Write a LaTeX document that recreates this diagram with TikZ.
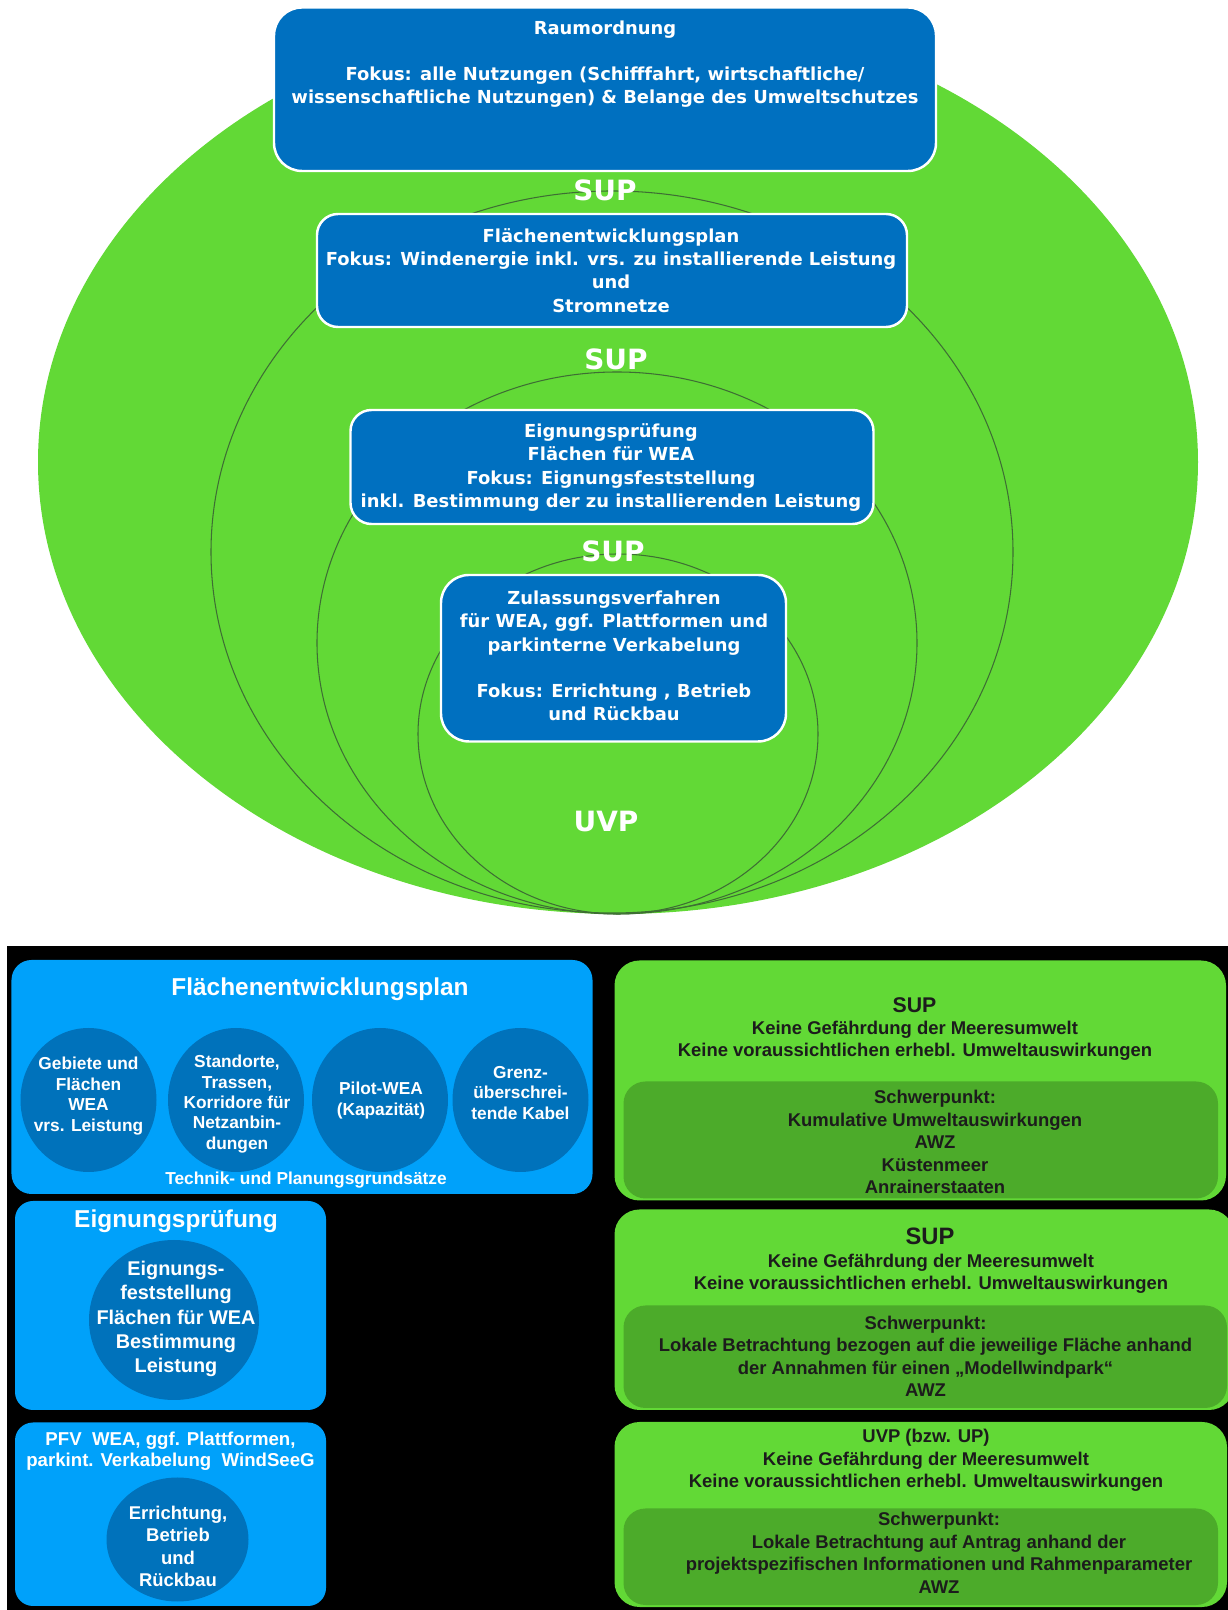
\documentclass[tikz,border=0pt]{standalone}
\usepackage{fontspec}
\setmainfont{Liberation Sans}
\newfontfamily\slidefont{DejaVu Sans}
\definecolor{boxblue}{HTML}{0070C0}
\definecolor{skyblue}{HTML}{00A1FA}
\definecolor{discblue}{HTML}{0072BB}
\definecolor{leaf}{HTML}{62D936}
\definecolor{darkleaf}{HTML}{4CAB2A}
\definecolor{ringline}{HTML}{3E6E34}
\definecolor{inktext}{HTML}{1C1C1C}
\newcommand\fsz[2]{\fontsize{#1}{#2}\selectfont}

\begin{document}
\begin{tikzpicture}[font=\bfseries,
  topbox/.style={draw=white,line width=1.4pt,fill=boxblue},
  ring/.style={draw=ringline,line width=.6pt},
  toptext/.style={text=white,align=center,font=\slidefont\bfseries\fsz{10.2pt}{13.2pt}},
  ringlabel/.style={text=white,font=\slidefont\bfseries\fsz{15.9pt}{18pt}},
  whitetext/.style={text=white,align=center},
  darktext/.style={text=inktext,align=center,font=\bfseries\fsz{10.5pt}{12.8pt}}]
\useasboundingbox (0,0) rectangle (24.56,32.2);
\fill[white] (0,0) rectangle (24.56,32.2);
% Nested assessment scopes: the outer ring is filled, the inner ones are only outlined.
\fill[leaf] (12.36,22.96) ellipse [x radius=11.6,y radius=9.04];
\foreach \cx/\cy/\rx/\ry in {12.24/21.16/8.02/7.22,12.34/19.34/6.0/5.42,12.36/17.52/4.0/3.6}{
  \draw[ring] (\cx,\cy) ellipse [x radius=\rx,y radius=\ry];
}
\draw[topbox,rounded corners=.56cm] (5.48,32.05) rectangle (18.72,28.78);
\draw[topbox,rounded corners=.42cm] (6.34,27.92) rectangle (18.14,25.66);
\draw[topbox,rounded corners=.42cm] (7.01,24.0) rectangle (17.47,21.72);
\draw[topbox,rounded corners=.56cm] (8.82,20.7) rectangle (15.72,17.37);
\node[toptext] (raum) at (12.1,30.92) {Raumordnung\\[13.2pt]Fokus: alle Nutzungen (Schifffahrt, wirtschaftliche/\\wissenschaftliche Nutzungen) \& Belange des Umweltschutzes};
\node[toptext] (fepfokus) at (12.22,26.79) {Flächenentwicklungsplan\\Fokus: Windenergie inkl. vrs. zu installierende Leistung\\und\\Stromnetze};
\node[toptext] (eignfokus) at (12.22,22.85) {Eignungsprüfung\\Flächen für WEA\\Fokus: Eignungsfeststellung\\inkl. Bestimmung der zu installierenden Leistung};
\node[toptext] (zulassung) at (12.28,19.08) {Zulassungsverfahren\\für WEA, ggf. Plattformen und\\parkinterne Verkabelung\\[13.2pt]Fokus: Errichtung , Betrieb\\und Rückbau};
\node[ringlabel] (supone) at (12.1,28.39) {SUP};
\node[ringlabel] (suptwo) at (12.32,25.01) {SUP};
\node[ringlabel] (supthree) at (12.26,21.17) {SUP};
\node[ringlabel] (uvp) at (12.12,15.76) {UVP};
% Lower table: instruments on the left, environmental checks on the right.
\fill[black] (0.13,13.27) rectangle (24.56,0);
\fill[skyblue,rounded corners=.4cm] (0.23,13.0) rectangle (11.85,8.32);
\node[whitetext,font=\bfseries\fsz{13.9pt}{16pt}] (feptitle) at (6.4,12.42) {Flächenentwicklungsplan};
\foreach \cx/\tx/\ty/\txt [count=\i] in {1.77/1.77/10.28/{Gebiete und\\Flächen\\WEA\\vrs. Leistung},4.72/4.74/10.12/{Standorte,\\Trassen,\\Korridore für\\Netzanbin-\\dungen},7.6/7.62/10.19/{Pilot-WEA\\(Kapazität)},10.41/10.41/10.34/{Grenz-\\überschrei-\\tende Kabel}}{
  \fill[discblue] (\cx,10.2) ellipse [x radius=1.36,y radius=1.44];
  \node[whitetext,font=\bfseries\fsz{9.85pt}{11.6pt}] (fepdisc\i) at (\tx,\ty) {\txt};
}
\node[whitetext,font=\bfseries\fsz{9.85pt}{11.6pt}] (technik) at (6.12,8.59) {Technik- und Planungsgrundsätze};
\fill[skyblue,rounded corners=.36cm] (0.3,8.18) rectangle (6.52,4.0);
\node[whitetext,font=\bfseries\fsz{13.9pt}{16pt}] (eigntitle) at (3.52,7.78) {Eignungsprüfung};
\fill[discblue] (3.48,5.8) ellipse [x radius=1.7,y radius=1.6];
\node[whitetext,font=\bfseries\fsz{11.3pt}{13.9pt}] (eigndisc) at (3.52,5.82) {Eignungs-\\feststellung\\Flächen für WEA\\Bestimmung\\Leistung};
\fill[skyblue,rounded corners=.36cm] (0.3,3.75) rectangle (6.52,0.08);
\node[whitetext,font=\bfseries\fsz{10.6pt}{12.2pt}] (pfvtitle) at (3.41,3.18) {PFV\ \ WEA, ggf. Plattformen,\\parkint. Verkabelung\ \ WindSeeG};
\fill[discblue] (3.55,1.41) ellipse [x radius=1.42,y radius=1.24];
\node[whitetext,font=\bfseries\fsz{10.5pt}{12.75pt}] (pfvdisc) at (3.56,1.27) {Errichtung,\\Betrieb\\und\\Rückbau};
\foreach \ytop/\ybot/\xr/\yin/\xin in {12.99/8.19/24.52/10.57/24.36,8.01/4.0/24.68/6.09/24.54,3.76/0.06/24.54/2.03/24.36}{
  \fill[leaf,rounded corners=.5cm] (12.29,\ytop) rectangle (\xr,\ybot);
  \fill[darkleaf,rounded corners=.44cm] (12.47,\yin) rectangle (\xin,\ybot+.04);
}
\node[darktext,font=\bfseries\fsz{12.1pt}{14pt}] (supfep) at (18.29,12.1) {SUP};
\node[darktext] (checkfep) at (18.3,11.38) {Keine Gefährdung der Meeresumwelt\\Keine voraussichtlichen erhebl. Umweltauswirkungen};
\node[darktext] (focusfep) at (18.7,9.36) {Schwerpunkt:\\Kumulative Umweltauswirkungen\\AWZ\\Küstenmeer\\Anrainerstaaten};
\node[darktext,font=\bfseries\fsz{13.5pt}{15pt}] (supeign) at (18.6,7.48) {SUP};
\node[darktext] (checkeign) at (18.62,6.72) {Keine Gefährdung der Meeresumwelt\\Keine voraussichtlichen erhebl. Umweltauswirkungen};
\node[darktext] (focuseign) at (18.51,5.07) {Schwerpunkt:\\Lokale Betrachtung bezogen auf die jeweilige Fläche anhand\\der Annahmen für einen „Modellwindpark“\\AWZ};
\node[darktext] (checkuvp) at (18.52,2.99) {UVP (bzw. UP)\\Keine Gefährdung der Meeresumwelt\\Keine voraussichtlichen erhebl. Umweltauswirkungen};
\node[darktext] (focusuvp) at (18.78,1.14) {Schwerpunkt:\\Lokale Betrachtung auf Antrag anhand der\\projektspezifischen Informationen und Rahmenparameter\\AWZ};
\end{tikzpicture}
\end{document}
